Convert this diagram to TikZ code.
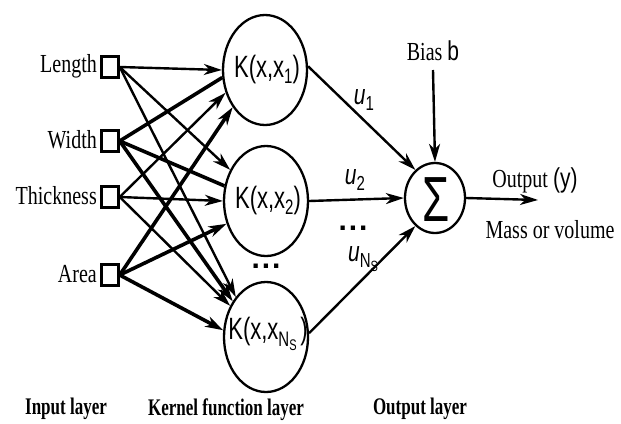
\documentclass[tikz,border=0pt]{standalone}
\usepackage{fontspec}
\usepackage{graphicx}
\setmainfont{Liberation Serif}
\setsansfont{Liberation Sans}
\usetikzlibrary{arrows.meta,shapes.geometric}
\newcommand{\vst}[2][1.35]{\scalebox{1}[#1]{#2}}
\newcommand{\kx}[1]{\vst[1.4]{\textsf{\fontsize{22}{24}\selectfont K(x,x#1)}}}
\newcommand{\subs}[1]{\raisebox{-4pt}{\fontsize{15}{15}\selectfont #1}}
\begin{document}
\begin{tikzpicture}[x=1pt,y=-1pt,
  inbox/.style={draw,line width=2.4pt,minimum width=17pt,minimum height=21pt,inner sep=0pt},
  kern/.style={draw,ellipse,line width=2.3pt,minimum width=84pt,minimum height=110pt,inner sep=0pt},
  sumnode/.style={draw,ellipse,line width=2.3pt,minimum width=60pt,minimum height=70pt,inner sep=0pt},
  lab/.style={font=\fontsize{20}{22}\selectfont,inner sep=0pt},
  bold/.style={font=\fontsize{17}{19}\selectfont\bfseries,inner sep=0pt},
  plain/.style={inner sep=0pt},
  tip/.style={-{Stealth[length=18pt,width=11pt,inset=5.5pt]}},
  thinl/.style={line width=2.4pt},
  thickl/.style={line width=3.6pt},
]
\useasboundingbox (0,0) rectangle (621,423);

% input squares and labels
\node[inbox] (L) at (110,67) {};
\node[inbox] (W) at (110,141) {};
\node[inbox] (T) at (110,197) {};
\node[inbox] (A) at (110,275) {};
\node[lab,anchor=east] (Lt) at (97,66) {\vst[1.3]{Length}};
\node[lab,anchor=east] (Wt) at (97,140) {\vst[1.3]{Width}};
\node[lab,anchor=east] (Tt) at (97,196) {\vst[1.3]{Thickness}};
\node[lab,anchor=east] (At) at (97,274) {\vst[1.3]{Area}};

% kernel nodes
\node[kern] (K1) at (265,70) {};
\node[kern] (K2) at (266,201) {};
\node[kern] (K3) at (266,337) {};
\node[plain] (K1t) at (267,70) {\kx{\subs{1}}};
\node[plain] (K2t) at (268,201) {\kx{\subs{2}}};
\node[plain] (K3t) at (268,334) {\kx{\raisebox{-5pt}{\fontsize{15}{15}\selectfont N\raisebox{-3pt}{\fontsize{11}{11}\selectfont S}}\,}};
\node[plain] (d1) at (266,266) {\textsf{\bfseries\fontsize{30}{30}\selectfont .\kern2pt.\kern2pt.}};

% summation node
\node[sumnode] (S) at (435,198) {};
\node[plain] (St) at (436,200) {\vst[1.45]{\textsf{\fontsize{44}{44}\selectfont Σ}}};

% input -> kernel connections
\draw[thinl,tip] (L.east) -- (K1.180);
\draw[thinl,tip] (L.east) -- (K2.139);
\draw[thinl,tip] (L.east) -- (K3.127);
\draw[thickl] (W.east) -- (K1.190);
\draw[thickl] (W.east) -- (K2.160);
\draw[thickl,tip] (W.east) -- (K3.133);
\draw[thinl,tip] (T.east) -- (K1.210);
\draw[thinl,tip] (T.east) -- (K2.180);
\draw[thinl,tip] (T.east) -- (K3.139);
\draw[thickl,tip] (A.east) -- (K1.229);
\draw[thickl,tip] (A.east) -- (K2.210);
\draw[thickl,tip] (A.east) -- (K3.171);

% kernel -> sum
\draw[thinl,tip] (K1.5) -- (S.125);
\draw[thinl,tip] (K2.east) -- (S.west);
\draw[thinl,tip] (K3.5) -- (S.235);

% weight labels
\node[plain] (u1) at (364,100) {\vst[1.35]{\textsf{\fontsize{21}{22}\selectfont\itshape u}\subs{\textsf{1}}}};
\node[plain] (u2) at (355,180) {\vst[1.35]{\textsf{\fontsize{21}{22}\selectfont\itshape u}\subs{\textsf{2}}}};
\node[plain] (d2) at (353,228) {\textsf{\bfseries\fontsize{30}{30}\selectfont .\kern2pt.\kern2pt.}};
\node[plain] (uN) at (363,259) {\vst[1.35]{\textsf{\fontsize{21}{22}\selectfont\itshape u}\raisebox{-4pt}{\textsf{\fontsize{15}{15}\selectfont N\raisebox{-3pt}{\fontsize{11}{11}\selectfont S}}}}};

% bias
\node[lab] (B) at (433,51) {\vst[1.3]{Bias \textsf{\fontsize{21}{22}\selectfont b}}};
\coordinate (bt) at (433,70);
\draw[thinl,tip] (bt) -- (S.north);

% output
\coordinate (out) at (538,200);
\draw[thinl,tip] (S.east) -- (out);
\node[lab] (O) at (535,180) {\vst[1.3]{Output \textsf{\fontsize{21}{22}\selectfont(y)}}};
\node[lab] (M) at (550,230) {\vst[1.3]{Mass or volume}};

% layer titles
\node[bold] (IL) at (66,409) {\vst[1.4]{Input layer}};
\node[bold] (KL) at (226,410) {\vst[1.4]{Kernel function layer}};
\node[bold] (OL) at (420,409) {\vst[1.4]{Output layer}};
\end{tikzpicture}
\end{document}
